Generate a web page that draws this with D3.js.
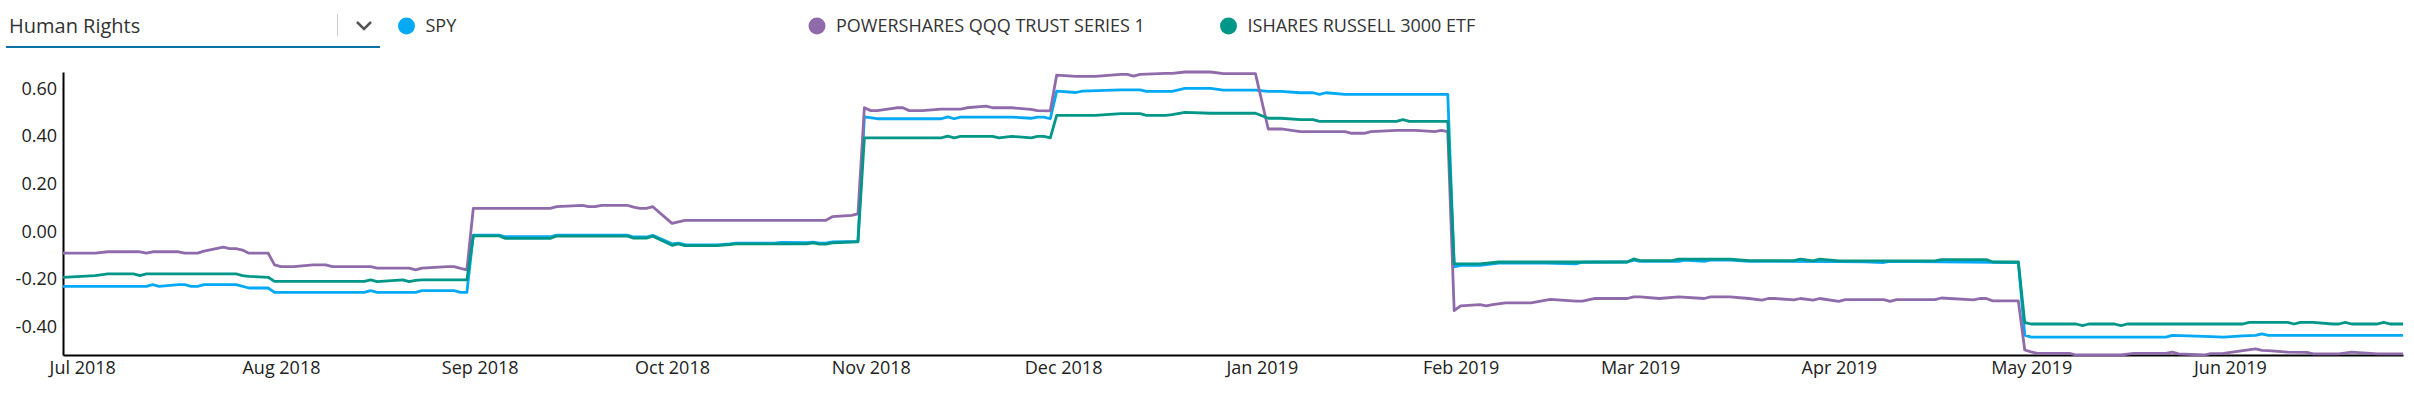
<!DOCTYPE html>
<html>
<head>
<meta charset="utf-8">
<script src="https://cdn.jsdelivr.net/npm/d3@7"></script>
<style>
  body { margin: 0; background: #fff; }
  svg { display: block; font-family: "Open Sans", sans-serif; }
  .axis text { font-size: 18px; fill: #222; font-family: "Open Sans", sans-serif; }
  .axis path { stroke: #000; stroke-width: 2; }
</style>
</head>
<body>
<svg id="svg" width="2414" height="394"></svg>
<script>
// series names, same order as legend
var names = ["SPY", "POWERSHARES QQQ TRUST SERIES 1", "ISHARES RUSSELL 3000 ETF"];
var colors = ["#03a9f4", "#8f6bab", "#009688"];
var yTicks = [-0.4, -0.2, 0, 0.2, 0.4, 0.6];

// values, [date, value]
var spy = [["2018-06-28",-0.230],["2018-07-11",-0.230],["2018-07-12",-0.223],["2018-07-13",-0.230],["2018-07-16",-0.223],["2018-07-17",-0.223],["2018-07-18",-0.230],["2018-07-19",-0.230],["2018-07-20",-0.223],["2018-07-25",-0.223],["2018-07-27",-0.237],["2018-07-30",-0.237],["2018-07-31",-0.255],["2018-08-14",-0.255],["2018-08-15",-0.248],["2018-08-16",-0.255],["2018-08-22",-0.255],["2018-08-23",-0.248],["2018-08-28",-0.248],["2018-08-29",-0.255],["2018-08-30",-0.255],["2018-08-31",-0.015],["2018-09-04",-0.015],["2018-09-05",-0.022],["2018-09-12",-0.022],["2018-09-13",-0.015],["2018-09-24",-0.015],["2018-09-25",-0.023],["2018-09-27",-0.023],["2018-09-28",-0.016],["2018-10-01",-0.052],["2018-10-02",-0.049],["2018-10-03",-0.055],["2018-10-08",-0.056],["2018-10-10",-0.052],["2018-10-11",-0.049],["2018-10-17",-0.049],["2018-10-18",-0.046],["2018-10-22",-0.047],["2018-10-23",-0.045],["2018-10-24",-0.049],["2018-10-25",-0.049],["2018-10-26",-0.044],["2018-10-30",-0.041],["2018-10-31",0.481],["2018-11-02",0.473],["2018-11-12",0.473],["2018-11-13",0.481],["2018-11-14",0.473],["2018-11-15",0.480],["2018-11-23",0.480],["2018-11-26",0.475],["2018-11-27",0.480],["2018-11-28",0.480],["2018-11-29",0.473],["2018-11-30",0.589],["2018-12-03",0.583],["2018-12-04",0.589],["2018-12-10",0.594],["2018-12-13",0.594],["2018-12-14",0.588],["2018-12-18",0.588],["2018-12-20",0.600],["2018-12-24",0.600],["2018-12-26",0.593],["2018-12-31",0.593],["2019-01-02",0.588],["2019-01-04",0.588],["2019-01-07",0.582],["2019-01-09",0.582],["2019-01-10",0.575],["2019-01-11",0.582],["2019-01-14",0.575],["2019-01-30",0.575],["2019-01-31",-0.148],["2019-02-01",-0.142],["2019-02-04",-0.142],["2019-02-07",-0.133],["2019-02-14",-0.133],["2019-02-19",-0.136],["2019-02-20",-0.129],["2019-02-27",-0.128],["2019-02-28",-0.120],["2019-03-01",-0.125],["2019-03-07",-0.125],["2019-03-08",-0.120],["2019-03-11",-0.125],["2019-03-12",-0.120],["2019-03-15",-0.120],["2019-03-18",-0.125],["2019-04-01",-0.126],["2019-04-05",-0.127],["2019-04-08",-0.130],["2019-04-09",-0.125],["2019-04-29",-0.130],["2019-04-30",-0.435],["2019-05-01",-0.443],["2019-05-22",-0.443],["2019-05-23",-0.436],["2019-05-28",-0.440],["2019-05-31",-0.443],["2019-06-03",-0.438],["2019-06-05",-0.436],["2019-06-06",-0.429],["2019-06-07",-0.436],["2019-06-28",-0.436]];

var qqq = [["2018-06-28",-0.091],["2018-07-03",-0.091],["2018-07-05",-0.085],["2018-07-10",-0.085],["2018-07-11",-0.091],["2018-07-12",-0.085],["2018-07-16",-0.085],["2018-07-17",-0.091],["2018-07-19",-0.091],["2018-07-20",-0.082],["2018-07-23",-0.066],["2018-07-24",-0.072],["2018-07-25",-0.072],["2018-07-26",-0.078],["2018-07-27",-0.091],["2018-07-30",-0.091],["2018-07-31",-0.140],["2018-08-01",-0.147],["2018-08-03",-0.147],["2018-08-06",-0.140],["2018-08-08",-0.140],["2018-08-09",-0.147],["2018-08-15",-0.147],["2018-08-16",-0.154],["2018-08-21",-0.154],["2018-08-22",-0.161],["2018-08-23",-0.154],["2018-08-27",-0.147],["2018-08-28",-0.147],["2018-08-29",-0.155],["2018-08-30",-0.161],["2018-08-31",0.097],["2018-09-12",0.097],["2018-09-13",0.104],["2018-09-17",0.110],["2018-09-18",0.104],["2018-09-19",0.104],["2018-09-20",0.110],["2018-09-24",0.110],["2018-09-25",0.102],["2018-09-26",0.097],["2018-09-27",0.097],["2018-09-28",0.104],["2018-10-01",0.034],["2018-10-03",0.047],["2018-10-25",0.047],["2018-10-26",0.062],["2018-10-29",0.068],["2018-10-30",0.074],["2018-10-31",0.519],["2018-11-01",0.507],["2018-11-02",0.507],["2018-11-05",0.519],["2018-11-06",0.519],["2018-11-07",0.507],["2018-11-09",0.507],["2018-11-12",0.513],["2018-11-15",0.513],["2018-11-16",0.519],["2018-11-19",0.526],["2018-11-20",0.519],["2018-11-23",0.519],["2018-11-26",0.512],["2018-11-27",0.507],["2018-11-29",0.506],["2018-11-30",0.656],["2018-12-03",0.651],["2018-12-06",0.651],["2018-12-10",0.659],["2018-12-11",0.659],["2018-12-12",0.652],["2018-12-13",0.659],["2018-12-17",0.663],["2018-12-18",0.663],["2018-12-20",0.669],["2018-12-24",0.669],["2018-12-26",0.662],["2018-12-31",0.662],["2019-01-02",0.430],["2019-01-04",0.430],["2019-01-07",0.419],["2019-01-14",0.419],["2019-01-15",0.412],["2019-01-17",0.412],["2019-01-18",0.419],["2019-01-22",0.424],["2019-01-25",0.424],["2019-01-28",0.419],["2019-01-29",0.424],["2019-01-30",0.419],["2019-01-31",-0.332],["2019-02-01",-0.312],["2019-02-04",-0.307],["2019-02-05",-0.312],["2019-02-06",-0.307],["2019-02-08",-0.299],["2019-02-12",-0.299],["2019-02-15",-0.285],["2019-02-19",-0.292],["2019-02-20",-0.292],["2019-02-22",-0.281],["2019-02-27",-0.281],["2019-02-28",-0.274],["2019-03-01",-0.274],["2019-03-04",-0.281],["2019-03-07",-0.274],["2019-03-11",-0.281],["2019-03-12",-0.274],["2019-03-15",-0.274],["2019-03-18",-0.281],["2019-03-20",-0.288],["2019-03-21",-0.281],["2019-03-22",-0.281],["2019-03-25",-0.287],["2019-03-26",-0.281],["2019-03-28",-0.288],["2019-03-29",-0.281],["2019-04-01",-0.293],["2019-04-02",-0.286],["2019-04-08",-0.286],["2019-04-09",-0.293],["2019-04-10",-0.286],["2019-04-16",-0.286],["2019-04-17",-0.279],["2019-04-22",-0.287],["2019-04-23",-0.281],["2019-04-24",-0.281],["2019-04-25",-0.291],["2019-04-29",-0.291],["2019-04-30",-0.497],["2019-05-01",-0.505],["2019-05-02",-0.511],["2019-05-07",-0.511],["2019-05-08",-0.518],["2019-05-15",-0.518],["2019-05-16",-0.514],["2019-05-17",-0.511],["2019-05-22",-0.511],["2019-05-23",-0.506],["2019-05-24",-0.513],["2019-05-28",-0.518],["2019-05-29",-0.512],["2019-05-31",-0.511],["2019-06-03",-0.500],["2019-06-05",-0.492],["2019-06-06",-0.499],["2019-06-07",-0.500],["2019-06-10",-0.506],["2019-06-13",-0.507],["2019-06-14",-0.513],["2019-06-18",-0.513],["2019-06-20",-0.506],["2019-06-24",-0.513],["2019-06-28",-0.513]];

var iwv = [["2018-06-28",-0.192],["2018-07-03",-0.185],["2018-07-05",-0.178],["2018-07-09",-0.178],["2018-07-10",-0.185],["2018-07-11",-0.178],["2018-07-25",-0.178],["2018-07-26",-0.185],["2018-07-27",-0.188],["2018-07-30",-0.192],["2018-07-31",-0.209],["2018-08-14",-0.209],["2018-08-15",-0.203],["2018-08-16",-0.210],["2018-08-20",-0.203],["2018-08-21",-0.210],["2018-08-22",-0.205],["2018-08-23",-0.203],["2018-08-30",-0.203],["2018-08-31",-0.018],["2018-09-04",-0.018],["2018-09-05",-0.029],["2018-09-12",-0.029],["2018-09-13",-0.019],["2018-09-24",-0.019],["2018-09-25",-0.028],["2018-09-27",-0.028],["2018-09-28",-0.020],["2018-10-01",-0.058],["2018-10-02",-0.052],["2018-10-03",-0.059],["2018-10-08",-0.059],["2018-10-10",-0.055],["2018-10-11",-0.052],["2018-10-22",-0.052],["2018-10-23",-0.048],["2018-10-24",-0.053],["2018-10-25",-0.053],["2018-10-26",-0.048],["2018-10-30",-0.043],["2018-10-31",0.393],["2018-11-12",0.393],["2018-11-13",0.400],["2018-11-14",0.393],["2018-11-15",0.399],["2018-11-20",0.399],["2018-11-21",0.393],["2018-11-23",0.399],["2018-11-26",0.393],["2018-11-27",0.399],["2018-11-28",0.399],["2018-11-29",0.393],["2018-11-30",0.487],["2018-12-06",0.487],["2018-12-10",0.494],["2018-12-13",0.494],["2018-12-14",0.487],["2018-12-17",0.487],["2018-12-18",0.490],["2018-12-20",0.500],["2018-12-24",0.496],["2018-12-31",0.496],["2019-01-02",0.475],["2019-01-04",0.475],["2019-01-07",0.469],["2019-01-09",0.469],["2019-01-10",0.462],["2019-01-22",0.462],["2019-01-23",0.469],["2019-01-24",0.462],["2019-01-30",0.462],["2019-01-31",-0.136],["2019-02-04",-0.136],["2019-02-07",-0.128],["2019-02-27",-0.128],["2019-02-28",-0.115],["2019-03-01",-0.122],["2019-03-06",-0.122],["2019-03-07",-0.116],["2019-03-15",-0.116],["2019-03-18",-0.122],["2019-03-25",-0.122],["2019-03-26",-0.116],["2019-03-28",-0.123],["2019-03-29",-0.116],["2019-04-01",-0.123],["2019-04-16",-0.123],["2019-04-17",-0.118],["2019-04-24",-0.118],["2019-04-25",-0.128],["2019-04-29",-0.128],["2019-04-30",-0.382],["2019-05-01",-0.388],["2019-05-08",-0.388],["2019-05-09",-0.395],["2019-05-10",-0.388],["2019-05-14",-0.388],["2019-05-15",-0.395],["2019-05-16",-0.388],["2019-06-03",-0.388],["2019-06-04",-0.381],["2019-06-10",-0.381],["2019-06-11",-0.388],["2019-06-12",-0.381],["2019-06-14",-0.381],["2019-06-17",-0.388],["2019-06-18",-0.388],["2019-06-19",-0.381],["2019-06-20",-0.388],["2019-06-24",-0.388],["2019-06-25",-0.381],["2019-06-26",-0.388],["2019-06-28",-0.388]];

//======================================================================
var svg = d3.select("#svg");
var width = +svg.attr("width");
var height = +svg.attr("height");
var margin = {top: 72, right: 11, bottom: 39, left: 63};

var parse = d3.timeParse("%Y-%m-%d");
var series = [spy, qqq, iwv].map(function(s) {
  return s.map(function(d) { return [parse(d[0]), d[1]]; });
});
var all = d3.merge(series);

var x = d3.scaleTime()
  .domain(d3.extent(all, function(d) { return d[0]; }))
  .range([margin.left, width - margin.right]);
var y = d3.scaleLinear()
  .domain(d3.extent(all, function(d) { return d[1]; }))
  .range([height - margin.bottom, margin.top]);

// dropdown at the top left
var dd = svg.append("g");
dd.append("text")
  .attr("x", 9).attr("y", 33)
  .attr("font-size", 20).attr("fill", "#333")
  .text("Human Rights");
dd.append("line")
  .attr("x1", 337.5).attr("x2", 337.5).attr("y1", 14).attr("y2", 36)
  .attr("stroke", "#ccc").attr("stroke-width", 1);
dd.append("path")
  .attr("d", "M357,22L364,29L371,22")
  .attr("fill", "none").attr("stroke", "#555").attr("stroke-width", 2.5);
dd.append("line")
  .attr("x1", 6).attr("x2", 380).attr("y1", 47).attr("y2", 47)
  .attr("stroke", "#0b72a8").attr("stroke-width", 2);

// legend
var legX = [406.5, 817, 1228.5];
var leg = svg.append("g").selectAll("g").data(names).enter().append("g")
  .attr("transform", function(d, i) { return "translate(" + legX[i] + ",26)"; });
leg.append("circle").attr("r", 8.5).attr("fill", function(d, i) { return colors[i]; });
leg.append("text")
  .attr("x", 19).attr("dy", "0.35em")
  .attr("font-size", 18).attr("fill", "#333")
  .text(function(d) { return d; });

// axes
svg.append("g")
  .attr("class", "axis")
  .attr("transform", "translate(0," + (height - margin.bottom) + ")")
  .call(d3.axisBottom(x).ticks(d3.timeMonth.every(1)).tickFormat(d3.timeFormat("%b %Y")).tickSize(0).tickPadding(6));
svg.append("g")
  .attr("class", "axis")
  .attr("transform", "translate(" + margin.left + ",0)")
  .call(d3.axisLeft(y).tickValues(yTicks).tickFormat(function(d) { return d.toFixed(2); }).tickSize(0).tickPadding(6));

// lines
var line = d3.line()
  .x(function(d) { return x(d[0]); })
  .y(function(d) { return y(d[1]); });
svg.append("g").selectAll("path").data(series).enter().append("path")
  .attr("d", line)
  .attr("fill", "none")
  .attr("stroke", function(d, i) { return colors[i]; })
  .attr("stroke-width", 2.8)
  .attr("stroke-linejoin", "round");
</script>
</body>
</html>
